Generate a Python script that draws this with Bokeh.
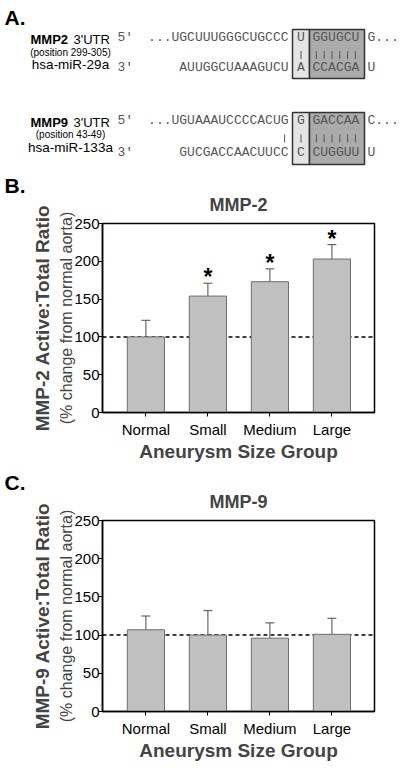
from bokeh.plotting import figure
from bokeh.layouts import column
from bokeh.models import (Range1d, LinearAxis, FixedTicker, ColumnDataSource,
                          Whisker, TeeHead, Span, Title)
from bokeh.core.properties import value
from bokeh.embed import file_html
from bokeh.resources import INLINE

# ---------------- Panel A data (sequence alignments) ----------------
mmp2_name, mmp2_pos = "MMP2", "(position 299-305)"
mmp2_utr = "UGCUUUGGGCUGCCC"
mmp2_mismatch = "U"
mmp2_seed = "GGUGCU"
mmp2_next = "G"
mir29a_name = "hsa-miR-29a"
mir29a_body = "AUUGGCUAAAGUCU"
mir29a_mismatch = "A"
mir29a_seed = "CCACGA"
mir29a_next = "U"

mmp9_name, mmp9_pos = "MMP9", "(position 43-49)"
mmp9_utr = "UGUAAAUCCCCACUG"
mmp9_mismatch = "G"
mmp9_seed = "GACCAA"
mmp9_next = "C"
mir133a_name = "hsa-miR-133a"
mir133a_body = "GUCGACCAACUUCC"
mir133a_mismatch = "C"
mir133a_seed = "CUGGUU"
mir133a_next = "U"

# ---------------- Panel B/C data ----------------
categories = ["Normal", "Small", "Medium", "Large"]
mmp2_ratio = [100, 154, 173, 203]
mmp2_sem = [22, 17, 17, 19]
mmp2_signif = [False, True, True, True]
mmp9_ratio = [107, 100, 96, 101]
mmp9_sem = [18, 32, 20, 21]
mmp9_signif = [False, False, False, False]
y_ticks = [0, 50, 100, 150, 200, 250]
reference_level = 100

SANS = "Liberation Sans"
MONO = "Liberation Mono"
W = 400

# ====================== Panel A ======================
HA = 167
pa = figure(width=W, height=HA, x_range=Range1d(0, W), y_range=Range1d(HA, 0),
            output_backend="svg", toolbar_location=None,
            x_axis_location=None, y_axis_location=None, min_border=0)
pa.outline_line_color = None
pa.grid.visible = False
pa.frame_align = False

CW = 7.8
SEQ_R = 288
BOX1_L, BOX1_R, BOX2_R = 292, 309, 364
SEED_L, NEXT_L = 312, 367
BOX1_C = (BOX1_L + BOX1_R) / 2
LAB_C = 70

pa.text(x=[4], y=[17], text=["A."], text_font=value(SANS), text_font_style="bold",
        text_font_size="21px", text_baseline="alphabetic", text_color="black")


def draw_alignment(p, rows, utr, mm, seed, nxt, body, mir_mm, mir_seed, mir_next,
                   gene, pos, mir, extra_pair):
    y_top, y_pipe, y_bot, box_top, box_bot, y_h, y_p, y_m = rows
    p.quad(left=[BOX1_L], right=[BOX1_R], top=[box_top], bottom=[box_bot],
           fill_color="#e4e4e4", line_color="#333333", line_width=1.5)
    p.quad(left=[BOX1_R], right=[BOX2_R], top=[box_top], bottom=[box_bot],
           fill_color="#ababab", line_color="#333333", line_width=1.5)
    seqstyle = dict(text_font=value(MONO), text_font_size="13px",
                    text_baseline="middle", text_color="#555555")
    p.text(x=[SEQ_R, SEQ_R], y=[y_top, y_bot], text=["..." + utr, body],
           text_align="right", **seqstyle)
    p.text(x=[BOX1_C, BOX1_C], y=[y_top, y_bot], text=[mm, mir_mm],
           text_align="center", **seqstyle)
    p.text(x=[SEED_L, SEED_L, NEXT_L, NEXT_L], y=[y_top, y_bot, y_top, y_bot],
           text=[seed, mir_seed, nxt + "...", mir_next], text_align="left", **seqstyle)
    px = [BOX1_C] + [SEED_L + CW * (i + 0.5) for i in range(len(seed))]
    if extra_pair:
        px = [SEQ_R - CW / 2] + px
    p.segment(x0=px, x1=px, y0=[y_pipe - 4] * len(px), y1=[y_pipe + 4] * len(px),
              line_color="#555555", line_width=1)
    p.text(x=[117, 117], y=[y_top, y_bot], text=["5\u2032", "3\u2032"], text_align="left",
           **seqstyle)
    p.text(x=[30], y=[y_h], text=[gene], text_font=value(SANS), text_font_style="bold",
           text_font_size="13px", text_baseline="middle", text_color="black")
    p.text(x=[73], y=[y_h], text=["3'UTR"], text_font=value(SANS),
           text_font_size="13px", text_baseline="middle", text_color="black")
    p.text(x=[LAB_C], y=[y_p], text=[pos], text_font=value(SANS), text_align="center",
           text_font_size="10px", text_baseline="middle", text_color="black")
    p.text(x=[LAB_C], y=[y_m], text=[mir], text_font=value(SANS), text_align="center",
           text_font_size="13.5px", text_baseline="middle", text_color="black")


draw_alignment(pa, (36.5, 54.5, 67, 29, 78, 39, 52, 64),
               mmp2_utr, mmp2_mismatch, mmp2_seed, mmp2_next,
               mir29a_body, mir29a_mismatch, mir29a_seed, mir29a_next,
               mmp2_name, mmp2_pos, mir29a_name, False)
draw_alignment(pa, (120, 138, 152, 112, 164, 122, 134, 147),
               mmp9_utr, mmp9_mismatch, mmp9_seed, mmp9_next,
               mir133a_body, mir133a_mismatch, mir133a_seed, mir133a_next,
               mmp9_name, mmp9_pos, mir133a_name, True)


# ====================== Panels B / C ======================
def bar_panel(letter, title, ylab, means, sems, signif, height, b_top, b_bottom):
    xs = [i + 1 for i in range(len(categories))]
    L, R = 102, 26
    x0, x1 = 0.3, 0.3 + (W - L - R) / 62.0
    p = figure(width=W, height=height, x_range=Range1d(x0, x1), y_range=Range1d(0, 250),
               output_backend="svg", toolbar_location=None,
               x_axis_location=None, y_axis_location=None,
               min_border_left=L, min_border_right=R,
               min_border_top=b_top, min_border_bottom=b_bottom)
    p.frame_align = False
    p.grid.visible = False
    p.outline_line_color = "black"
    p.outline_line_width = 1.5

    blank = dict(major_tick_out=0, major_tick_in=0, minor_tick_out=0, minor_tick_in=0,
                 axis_line_color=None, major_label_standoff=0,
                 major_label_text_font_size="0px")
    tax = LinearAxis(ticker=FixedTicker(ticks=[]), axis_label=title,
                     axis_label_text_font=SANS, axis_label_text_font_size="18px",
                     axis_label_text_font_style="bold", axis_label_standoff=9, **blank)
    p.add_layout(tax, "above")
    p.add_layout(Title(text=letter, align="left", offset=-L + 4, standoff=-10,
                       text_font=SANS, text_font_size="21px", text_font_style="bold",
                       text_color="black"), "above")

    tick_style = dict(major_label_text_font=SANS, major_label_text_font_size="15px",
                      major_label_text_color="black", major_tick_out=4, major_tick_in=0,
                      minor_tick_out=0, minor_tick_in=0, axis_line_width=1.5,
                      axis_line_color="black", major_tick_line_color="black")
    yax = LinearAxis(ticker=FixedTicker(ticks=y_ticks), axis_label="(% change from normal aorta)",
                     axis_label_text_font=SANS, axis_label_text_font_size="16px",
                     axis_label_text_font_style="normal", axis_label_standoff=-4,
                     major_label_standoff=-1, **tick_style)
    p.add_layout(yax, "left")
    yax2 = LinearAxis(ticker=FixedTicker(ticks=[]), axis_label=ylab,
                      axis_label_text_font=SANS, axis_label_text_font_size="19px",
                      axis_label_text_font_style="bold", axis_label_standoff=3, **blank)
    p.add_layout(yax2, "left")
    xax = LinearAxis(ticker=FixedTicker(ticks=xs),
                     major_label_overrides={x: c for x, c in zip(xs, categories)},
                     axis_label="Aneurysm Size Group", axis_label_text_font=SANS,
                     axis_label_text_font_size="19px", axis_label_text_font_style="bold",
                     axis_label_standoff=0, major_label_standoff=4, **tick_style)
    p.add_layout(xax, "below")

    p.add_layout(Span(location=reference_level, dimension="width", line_color="black",
                      line_dash="4 3", line_width=1.5, level="underlay"))

    src = ColumnDataSource(dict(x=xs, mean=means,
                                upper=[m + s for m, s in zip(means, sems)]))
    p.vbar(x="x", top="mean", bottom=0, width=0.6, source=src,
           fill_color="#c0c0c0", line_color="#6e6e6e", line_width=1)
    p.add_layout(Whisker(source=src, base="x", lower="mean", upper="upper",
                         line_color="#4a4a4a", line_width=1, lower_head=None,
                         upper_head=TeeHead(size=9, line_color="#4a4a4a", line_width=1)))
    sx = [x for x, s in zip(xs, signif) if s]
    sy = [m + e for m, e, s in zip(means, sems, signif) if s]
    if sx:
        p.text(x=sx, y=sy, text=["*"] * len(sx), text_align="center",
               text_baseline="alphabetic", text_font=value(SANS), text_font_style="bold",
               text_font_size="23px", y_offset=-6, text_color="black")
    return p


pb = bar_panel("B.", "MMP-2", "MMP-2 Active:Total Ratio", mmp2_ratio, mmp2_sem,
               mmp2_signif, 297, 56, 51)
pc = bar_panel("C.", "MMP-9", "MMP-9 Active:Total Ratio", mmp9_ratio, mmp9_sem,
               mmp9_signif, 304, 56, 57)

layout = column(pa, pb, pc)
open("out.html", "w").write(file_html(layout, INLINE))
